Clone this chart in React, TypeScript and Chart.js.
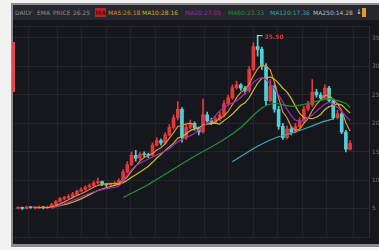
import React, { useEffect, useRef } from "react";
import { Chart, registerables } from "chart.js";

Chart.register(...registerables);

// ---- data ----
const closes = [5.2,5.1,5.3,5.2,5.2,5.3,5.2,5.3,5.8,6.3, 6.8,7.0,7.2,7.6,8.1,8.4,8.8,9.1,9.6,9.8, 9.3,9.2,9.4,9.5,10.0,11.5,12.8,14.4,13.9,14.6, 14.5,14.4,16.2,17.0,16.6,18.0,19.3,21.0,22.5,17.5, 19.3,20.0,19.2,18.5,21.5,20.5,20.2,20.8,21.5,23.5, 24.5,26.3,26.8,26.2,25.8,29.5,33.5,33.0,30.0,24.0, 26.5,22.5,19.5,17.5,19.0,18.5,19.5,20.5,22.5,23.3, 25.5,25.0,24.5,26.2,24.0,21.0,21.7,18.5,15.5,16.5];
const opens = [5.1,5.2,5.1,5.3,5.2,5.2,5.3,5.2,5.3,5.8, 6.3,6.8,7.0,7.2,7.6,8.1,8.4,8.8,9.1,9.6, 9.8,9.3,9.2,9.4,9.5,10.0,11.5,12.8,14.4,13.9, 14.6,14.5,14.4,16.2,17.0,16.6,18.0,19.3,21.0,22.5, 17.5,19.3,20.0,19.2,18.5,21.5,20.5,20.2,20.8,21.5, 23.5,24.5,26.3,26.8,26.2,25.8,29.5,33.5,33.0,30.0, 24.0,26.5,22.5,19.5,17.5,19.0,18.5,19.5,20.5,22.5, 23.3,25.5,25.0,24.5,26.2,24.0,21.0,21.7,18.5,15.5];
const highs = [5.4,5.3,5.5,5.4,5.4,5.5,5.4,5.5,6.0,6.5, 7.0,7.2,7.5,7.9,8.3,8.7,9.1,9.4,9.9,10.4, 9.9,9.5,9.6,9.8,10.3,11.9,13.3,15.0,15.3,14.9, 15.0,14.8,16.6,17.5,17.3,18.4,19.8,21.5,23.8,22.8, 19.8,20.6,20.3,19.4,24.3,22.0,20.9,21.2,22.0,24.0, 25.0,26.8,27.4,27.0,26.5,30.0,34.2,35.5,33.4,30.5, 27.7,26.8,23.0,20.0,19.6,19.4,20.0,21.0,23.0,23.9, 27.7,26.0,25.4,26.8,26.5,24.3,22.3,21.9,18.8,17.0];
const lows = [5.0,4.9,5.0,5.1,5.0,5.1,5.0,5.1,5.2,5.7, 6.2,6.6,6.8,7.1,7.5,8.0,8.3,8.7,9.0,9.4, 9.1,8.9,9.0,9.2,9.3,9.8,11.3,12.6,13.4,13.6, 14.1,14.0,14.2,16.0,16.2,16.4,17.8,19.0,20.6,16.7, 17.2,19.0,18.8,18.0,18.3,20.1,19.8,20.0,20.5,21.2, 23.1,24.2,26.0,25.8,25.2,25.5,29.2,31.8,29.5,23.3, 23.8,22.0,19.0,17.2,17.3,18.0,18.3,19.2,20.2,22.2, 23.0,24.6,24.0,24.2,23.7,20.7,20.8,18.2,15.0,15.3];

const ma5 = [null,null,null,null,5.2,5.22,5.24,5.24,5.36,5.58, 5.88,6.24,6.62,6.98,7.34,7.66,8.02,8.4,8.8,9.14, 9.32,9.4,9.46,9.44,9.48,9.92,10.64,11.64,12.52,13.44, 14.04,14.36,14.72,15.34,15.74,16.44,17.42,18.38,19.48,19.66, 19.92,20.06,19.7,18.9,19.7,19.94,19.98,20.3,20.9,21.3, 22.1,23.32,24.52,25.46,25.92,26.92,28.36,29.6,30.36,30.0, 29.4,27.2,24.5,22.0,21.0,19.4,18.8,19.0,20.0,20.86, 22.26,23.36,24.16,24.9,25.04,24.14,23.48,22.28,20.14,18.64];
const ma10 = [null,null,null,null,null,null,null,null,null,5.39, 5.55,5.74,5.93,6.17,6.46,6.77,7.13,7.51,7.89,8.24, 8.49,8.71,8.93,9.12,9.31,9.62,10.02,10.55,10.98,11.46, 11.98,12.5,13.18,13.93,14.59,15.24,15.89,16.55,17.41,17.7, 18.18,18.74,19.04,19.19,19.68,19.93,20.02,20.0,19.9,20.5, 21.02,21.65,22.41,23.18,23.61,24.51,25.84,27.06,27.91,27.96, 28.16,27.78,27.05,26.18,25.5,24.4,23.0,21.75,21.0,20.93, 20.83,21.08,21.58,22.45,22.95,23.2,23.42,23.22,22.52,21.84];
const ma20Idx = [8,10,12,14,16,18,20,22,24,26,28,30,32,34,36,38,40,42,44,46,48,50,52,54,56,58,60,62,64,66,68,70,72,74,76,78,79];
const ma20Val = [5.1,5.6,6.2,6.8,7.4,8.0,8.4,8.7,9.0,11.0,12.6,13.4,14.1,14.8,15.6,16.8,17.5,18.3,19.5,20.6,22.2,23.2,24.0,25.3,27.2,28.0,27.0,25.0,22.5,20.6,20.5,21.5,22.8,23.7,22.8,21.3,20.5];
const ma60Idx = [25,31,41,49,53,58,61,65,69,74,78,79];
const ma60Val = [7.0,9.3,13.8,17.2,19.3,22.7,23.5,23.0,23.5,24.3,23.5,22.8];
const ma120Idx = [51,57,61,65,69,73,75];
const ma120Val = [13.3,16.0,17.4,18.3,19.3,20.4,20.8];

const legendItems = [
  { text: "DAILY", color: "#8a8c92", left: 15 },
  { text: "EMA", color: "#8a8c92", left: 37 },
  { text: "PRICE", color: "#8a8c92", left: 53 },
  { text: "26.25", color: "#8a8c92", left: 73 },
  { text: "MA5:26.18", color: "#d38b1c", left: 108 },
  { text: "MA10:28.16", color: "#c8b51c", left: 142 },
  { text: "MA20:27.05", color: "#a61fae", left: 185 },
  { text: "MA60:23.33", color: "#1f9030", left: 228 },
  { text: "MA120:17.36", color: "#2aa5b2", left: 270 },
  { text: "MA250:14.28", color: "#b9b9bc", left: 313 },
];

const UP = "#e2383a";
const DOWN = "#52d0d8";

const maxMarker = {
  id: "maxMarker",
  afterDatasetsDraw(chart: any) {
    let mi = 0;
    highs.forEach((h, i) => { if (h > highs[mi]) mi = i; });
    const x = chart.scales.x.getPixelForValue(mi);
    const y = chart.scales.y.getPixelForValue(highs[mi]);
    const ctx = chart.ctx;
    ctx.save();
    ctx.strokeStyle = "#d8d8d8";
    ctx.lineWidth = 1;
    ctx.beginPath();
    ctx.moveTo(x, y + 0.5);
    ctx.lineTo(x + 5, y + 0.5);
    ctx.stroke();
    ctx.fillStyle = "#e03434";
    ctx.font = "bold 6px 'DejaVu Sans'";
    ctx.textBaseline = "middle";
    ctx.fillText(highs[mi].toFixed(2), x + 7, y + 2);
    ctx.restore();
  },
};

export default function App() {
  const ref = useRef<HTMLCanvasElement>(null);
  useEffect(() => {
    document.body.style.margin = "0";
    const colors = closes.map((c, i) => (c >= opens[i] ? UP : DOWN));
    const line = (label: string, pts: any[], color: string, tension: number) => ({
      type: "line" as const,
      label,
      data: pts,
      borderColor: color,
      borderWidth: 1.2,
      pointRadius: 0,
      tension,
      order: 0,
    });
    const chart = new Chart(ref.current!, {
      type: "bar",
      data: {
        datasets: [
          line("MA120", ma120Idx.map((x, i) => ({ x, y: ma120Val[i] })), "#3aa9b4", 0.3),
          line("MA60", ma60Idx.map((x, i) => ({ x, y: ma60Val[i] })), "#23903a", 0.3),
          line("MA20", ma20Idx.map((x, i) => ({ x, y: ma20Val[i] })), "#a52cb0", 0.3),
          line("MA10", ma10.map((y, x) => ({ x, y })).filter((p) => p.y !== null), "#cdb92a", 0),
          line("MA5", ma5.map((y, x) => ({ x, y })).filter((p) => p.y !== null), "#e38f2a", 0),
          {
            type: "bar" as const,
            label: "wick",
            data: highs.map((h, x) => ({ x, y: [lows[x], h] })) as any,
            backgroundColor: colors,
            barThickness: 1,
            grouped: false,
            order: 2,
          },
          {
            type: "bar" as const,
            label: "body",
            data: closes.map((c, x) => ({ x, y: [opens[x], c] })) as any,
            backgroundColor: colors,
            barThickness: 3,
            minBarLength: 1,
            grouped: false,
            order: 1,
          },
        ],
      },
      options: {
        animation: false,
        responsive: false,
        devicePixelRatio: 1,
        layout: { padding: { top: 1, bottom: 1, left: 0, right: 0 } },
        plugins: { legend: { display: false }, tooltip: { enabled: false } },
        scales: {
          x: { type: "linear", min: -1.2, max: 83.5, offset: false, display: false },
          x2: {
            type: "linear",
            min: -0.3,
            max: 14.23,
            offset: false,
            position: "bottom",
            ticks: { display: false, stepSize: 1 },
            grid: { color: "#202329", drawTicks: false },
            border: { display: false },
            afterFit: (s: any) => { s.height = 0; },
          },
          y: {
            type: "linear",
            position: "right",
            min: 0,
            max: 37,
            ticks: {
              stepSize: 5,
              padding: 3,
              color: "#6f7178",
              font: { size: 6, family: "'DejaVu Sans'" },
              callback: (v: any) => (v > 0 && v % 5 === 0 ? String(v) : ""),
            },
            grid: { color: "#22252b", drawTicks: false },
            border: { display: true, color: "#2c2f36" },
            afterFit: (s: any) => { s.width = 10; },
          },
        },
      } as any,
      plugins: [maxMarker],
    });
    return () => chart.destroy();
  }, []);

  return (
    <div style={{ position: "relative", width: 379, height: 250, background: "#f2f2f2", overflow: "hidden" }}>
      <div style={{ position: "absolute", left: 11, top: 3, width: 368, height: 244, background: "#8a8c90" }} />
      <div style={{ position: "absolute", left: 13, top: 5, width: 366, height: 239, background: "#15171c" }} />
      <div style={{ position: "absolute", left: 13, top: 5, width: 366, height: 15, background: "#26282d" }} />
      {legendItems.map((it) => (
        <span key={it.text} style={{ position: "absolute", left: it.left, top: 9, font: "6px 'DejaVu Sans'", color: it.color, whiteSpace: "nowrap", lineHeight: "7px" }}>{it.text}</span>
      ))}
      <span style={{ position: "absolute", left: 95, top: 8, width: 11, height: 9, background: "#c81c1e", font: "bold 6px 'DejaVu Sans'", color: "#6a0a0a", lineHeight: "9px", textAlign: "center" }}>MA</span>
      <span style={{ position: "absolute", left: 356, top: 8, font: "7px 'DejaVu Sans'", color: "#dcdcdc", lineHeight: "8px" }}>↓</span>
      <span style={{ position: "absolute", left: 362, top: 8, width: 4, height: 9, background: "#d9a21e" }} />
      <canvas ref={ref} width={366} height={224} style={{ position: "absolute", left: 13, top: 20, width: 366, height: 224 }} />
      <div style={{ position: "absolute", left: 12, top: 42, width: 3, height: 50, background: "#e04a50" }} />
    </div>
  );
}
